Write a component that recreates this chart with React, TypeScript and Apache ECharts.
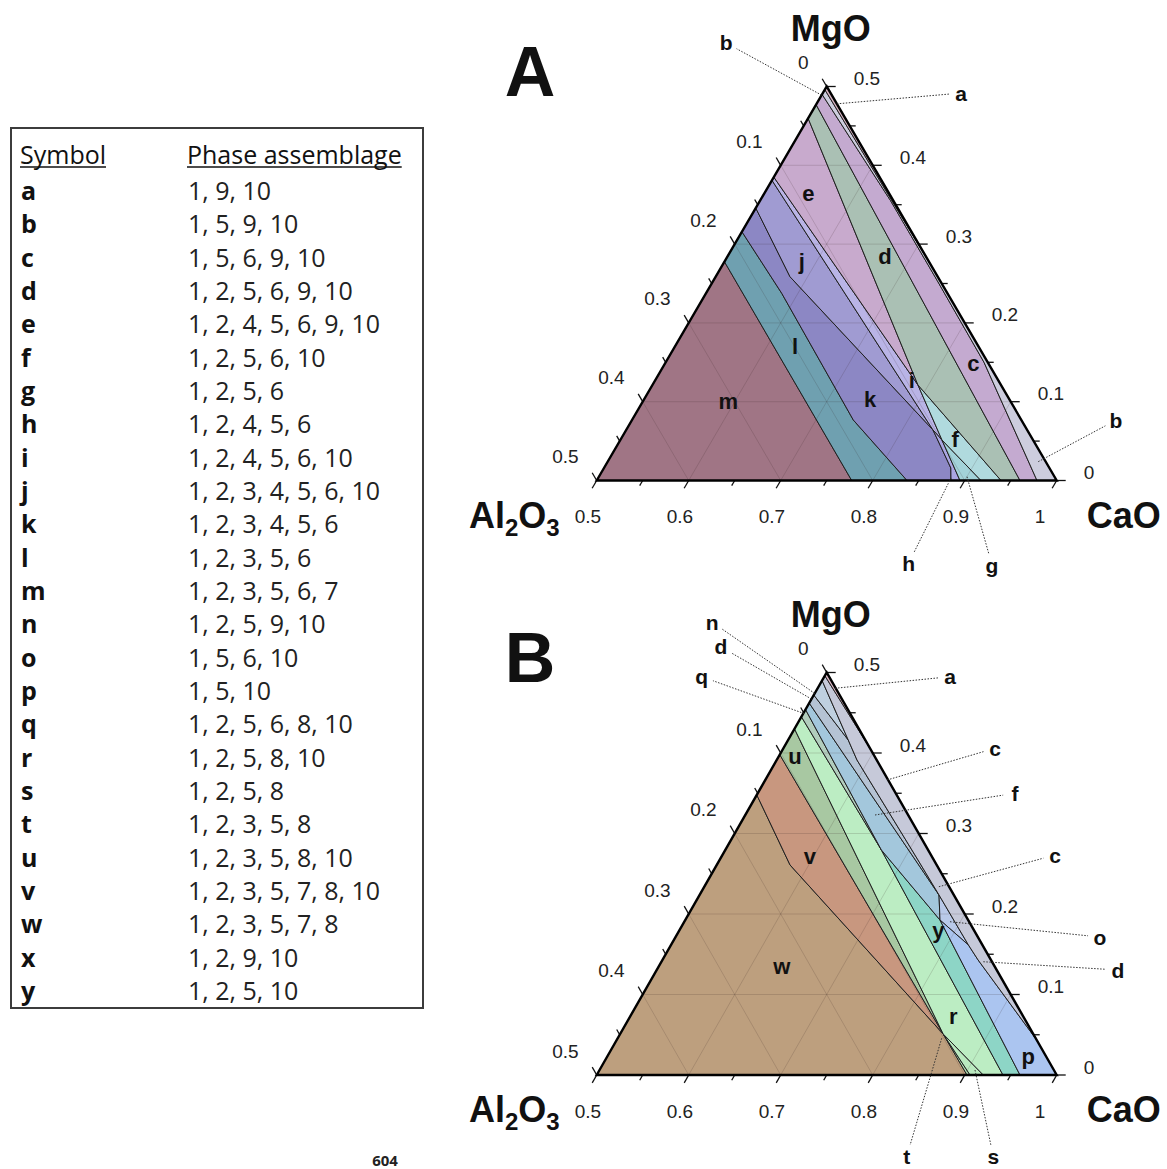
import React, { useEffect, useRef } from "react";
import * as echarts from "echarts";

type P = [number, number]; // [CaO, MgO] mole fractions; Al2O3 = 1 - CaO - MgO

// ---------------- Table data ----------------
const SYMBOLS = ["a","b","c","d","e","f","g","h","i","j","k","l","m","n","o","p","q","r","s","t","u","v","w","x","y"];
const ASSEMBLAGES = [
  "1, 9, 10", "1, 5, 9, 10", "1, 5, 6, 9, 10", "1, 2, 5, 6, 9, 10", "1, 2, 4, 5, 6, 9, 10",
  "1, 2, 5, 6, 10", "1, 2, 5, 6", "1, 2, 4, 5, 6", "1, 2, 4, 5, 6, 10", "1, 2, 3, 4, 5, 6, 10",
  "1, 2, 3, 4, 5, 6", "1, 2, 3, 5, 6", "1, 2, 3, 5, 6, 7", "1, 2, 5, 9, 10", "1, 5, 6, 10",
  "1, 5, 10", "1, 2, 5, 6, 8, 10", "1, 2, 5, 8, 10", "1, 2, 5, 8", "1, 2, 3, 5, 8",
  "1, 2, 3, 5, 8, 10", "1, 2, 3, 5, 7, 8, 10", "1, 2, 3, 5, 7, 8", "1, 2, 9, 10", "1, 2, 5, 10",
];

// ---------------- Axis ticks ----------------
const AL2O3_TICKS = [0, 0.1, 0.2, 0.3, 0.4, 0.5];
const AL2O3_LABELS = ["0", "0.1", "0.2", "0.3", "0.4", "0.5"];
const MGO_TICKS = [0, 0.1, 0.2, 0.3, 0.4, 0.5];
const MGO_LABELS = ["0", "0.1", "0.2", "0.3", "0.4", "0.5"];
const CAO_TICKS = [0.5, 0.6, 0.7, 0.8, 0.9, 1];
const CAO_LABELS = ["0.5", "0.6", "0.7", "0.8", "0.9", "1"];
const MINOR_TICKS = [0, 0.05, 0.1, 0.15, 0.2, 0.25, 0.3, 0.35, 0.4, 0.45, 0.5];
const GRID_MGO = [0.1, 0.2, 0.3, 0.4];
const GRID_CAO = [0.6, 0.7, 0.8, 0.9];
const GRID_AL2O3 = [0.1, 0.2, 0.3, 0.4];

// ---------------- Panel A ----------------
const A_VERTS: Record<string, P> = {
  AL: [0.5, 0], CA: [1, 0], MG: [0.5, 0.5],
  e7: [0.5, 0.2777], e4a: [0.5, 0.3157], e10: [0.5, 0.3458], e3: [0.5, 0.381], e9: [0.5, 0.385],
  e4b: [0.5, 0.4596], e2: [0.5, 0.477], e6: [0.5, 0.49], e5: [0.5, 0.496],
  b7: [0.7772, 0], b4a: [0.8373, 0], b3: [0.8851, 0], b4b: [0.8949, 0], b10: [0.9177, 0],
  b9: [0.9395, 0], b2: [0.9601, 0], b6: [0.9786, 0],
  k4a1: [0.5823, 0.2376], k4a2: [0.7405, 0.0768], k10: [0.5808, 0.2586],
  J1: [0.8335, 0.0641], Q: [0.8496, 0.0514], k3: [0.877, 0.0159], R: [0.7886, 0.1212],
  k6a: [0.642, 0.355], k6b: [0.7435, 0.2535], k6c: [0.846, 0.15], r5: [0.733, 0.267],
};
const A_REGIONS: [string, string[]][] = [
  ["m", ["AL", "b7", "e7"]],
  ["l", ["e7", "b7", "b4a", "k4a2", "k4a1", "e4a"]],
  ["k", ["e4a", "k4a1", "k4a2", "b4a", "b3", "k3", "J1", "k10", "e10"]],
  ["j", ["e10", "k10", "J1", "e3"]],
  ["i", ["e3", "J1", "Q", "R", "e9"]],
  ["h", ["J1", "k3", "b3", "b4b", "Q"]],
  ["g", ["Q", "b4b", "b10"]],
  ["f", ["R", "Q", "b10", "b9"]],
  ["e", ["e9", "R", "e4b"]],
  ["d", ["e4b", "R", "b9", "b2", "e2"]],
  ["c", ["e2", "b2", "b6", "k6c", "k6b", "k6a", "e6"]],
  ["b", ["e6", "k6a", "k6b", "k6c", "b6", "CA", "r5", "e5"]],
  ["a", ["e5", "r5", "MG"]],
];
const A_LABEL_NAMES = ["e", "d", "j", "c", "l", "i", "k", "m", "f"];
const A_LABEL_POS: P[] = [
  [0.5478, 0.3645], [0.6714, 0.284], [0.584, 0.2777], [0.835, 0.1487], [0.6306, 0.1698],
  [0.7787, 0.1275], [0.746, 0.1022], [0.593, 0.1], [0.8638, 0.0514],
];
const A_CALLOUT_LETTERS = ["b", "a", "b", "h", "g"];
const A_CALLOUT_TARGETS: P[] = [[0.5, 0.489], [0.522, 0.478], [0.968, 0.0239], [0.8835, 0.0032], [0.9001, 0.0048]];

// ---------------- Panel B ----------------
const B_VERTS: Record<string, P> = {
  AL: [0.5, 0], CA: [1, 0], MG: [0.5, 0.5],
  e10: [0.5, 0.348], e7: [0.5, 0.398], e3: [0.5, 0.43], e6: [0.5, 0.445], e8: [0.5, 0.454],
  e9: [0.5, 0.462], en: [0.5, 0.472], ec: [0.5, 0.49], ea: [0.5, 0.496],
  b7: [0.9025, 0], b3: [0.9058, 0], b10: [0.9202, 0], b8: [0.9416, 0], b2: [0.9601, 0],
  kv: [0.5797, 0.2609], X1: [0.8512, 0.0509], X2: [0.6697, 0.2795], X4: [0.7769, 0.1925],
  O1: [0.7603, 0.2236], O2: [0.8233, 0.1615],
  lnE: [0.5654, 0.4161], lc1: [0.5873, 0.3913], lc2: [0.7157, 0.2671], lc3: [0.8431, 0.1429],
  Ec: [0.9565, 0.0435], aE: [0.5963, 0.4037],
};
const B_REGIONS: [string, string[]][] = [
  ["w", ["AL", "b7", "X1", "kv", "e10"]],
  ["v", ["e10", "kv", "X1", "e7"]],
  ["u", ["e7", "X1", "e3"]],
  ["t", ["X1", "b7", "b3"]],
  ["s", ["X1", "b3", "b10"]],
  ["r", ["e3", "X1", "b10", "b8", "X2", "e6"]],
  ["q", ["e6", "X2", "e8"]],
  ["y", ["X2", "b8", "b2", "X4"]],
  ["f", ["e8", "X2", "X4", "O1", "e9"]],
  ["o", ["O1", "X4", "O2"]],
  ["p", ["X4", "b2", "CA", "Ec", "lc3", "O2"]],
  ["d", ["e9", "O1", "lc2", "lc1", "lnE", "en"]],
  ["n", ["en", "lnE", "ec"]],
  ["c", ["ec", "lnE", "lc1", "lc2", "O1", "O2", "lc3", "Ec", "aE", "ea"]],
  ["a", ["ea", "aE", "MG"]],
];
const B_LABEL_NAMES = ["u", "v", "w", "y", "r", "p"];
const B_LABEL_POS: P[] = [
  [0.5178, 0.3954], [0.5962, 0.2712], [0.6339, 0.1345], [0.7813, 0.1801], [0.8514, 0.0724], [0.9578, 0.0227],
];
const B_CALLOUT_LETTERS = ["n", "d", "q", "a", "c", "f", "c", "o", "d", "t", "s"];
const B_CALLOUT_TARGETS: P[] = [
  [0.5, 0.474], [0.5, 0.467], [0.501, 0.449], [0.5188, 0.4804], [0.6325, 0.3665], [0.641, 0.323],
  [0.755, 0.2339], [0.7888, 0.1904], [0.8499, 0.1407], [0.8522, 0.0456], [0.9081, 0.0062],
];

// ---------------- Styles / layout ----------------
const A_COLORS: Record<string, string> = {
  m: "#a07585", l: "#6fa0b0", k: "#8c87c4", j: "#a09bd2", i: "#b9b4e6", h: "#aaa6e2", g: "#a3d3d9",
  f: "#b0dade", e: "#c8aacd", d: "#aac0b4", c: "#c4aad0", b: "#cdcdde", a: "#d7b4c3",
};
const B_COLORS: Record<string, string> = {
  w: "#bd9f7e", v: "#c8977f", u: "#a8c8a2", t: "#b3e0b3", s: "#bae9bf", r: "#bcedc3", q: "#b2cdbd",
  y: "#8dd5c6", f: "#a3c7dc", o: "#b9c9e9", p: "#abc5f0", d: "#b5c3d4", n: "#bfd0e0", c: "#c6c9d9", a: "#dbb8c4",
};
const A_CALLOUT_OFFSETS = [[-95.6, -52.2], [124.2, -10.8], [77.7, -41.5], [-42.4, 85.3], [25, 88.3]];
const B_CALLOUT_OFFSETS = [
  [-102.7, -71.4], [-90.5, -52.1], [-102.5, -36.9], [115, -11.6], [107.8, -31.7], [140, -21.7],
  [116.1, -31.7], [150, 15.3], [134.7, 8.3], [-35, 118.2], [18.3, 86.5],
];
const GRID_A = { left: 596.7, top: 86.5, width: 460, height: 394 };
const GRID_B = { left: 596.7, top: 672.5, width: 460, height: 402.5 };

const FC = '"Liberation Sans", Arial, sans-serif';
const FT = '"Open Sans", "Noto Sans", sans-serif';
const F_TICK = `19px ${FC}`;
const F_TITLE = `bold 36px ${FC}`;
const F_SUB = `bold 24px ${FC}`;
const F_PANEL = `bold 70px ${FC}`;
const F_REGION = `bold 22px ${FC}`;
const F_CALLOUT = `bold 21px ${FC}`;

let measureCtx: CanvasRenderingContext2D | null = null;
function measure(text: string, font: string): number {
  if (!measureCtx) measureCtx = document.createElement("canvas").getContext("2d");
  measureCtx!.font = font;
  return measureCtx!.measureText(text).width;
}

function T(text: string, x: number, y: number, font: string, align: string, fill = "#111") {
  return {
    type: "text", x, y,
    style: { text, font, fill, align, textAlign: align, verticalAlign: "middle", textVerticalAlign: "middle" },
  };
}

interface Panel {
  letter: string;
  verts: Record<string, P>;
  regions: [string, string[]][];
  colors: Record<string, string>;
  labelNames: string[];
  labelPos: P[];
  calloutLetters: string[];
  calloutTargets: P[];
  calloutOffsets: number[][];
}

function panelSeries(k: number, pn: Panel): any[] {
  const base: any = {
    type: "custom", coordinateSystem: "cartesian2d", xAxisIndex: k, yAxisIndex: k,
    data: [[0.75, 0.25]], silent: true, clip: false,
  };
  const toPx = (api: any, p: P): number[] => api.coord([p[0] + p[1] / 2, p[1]]);

  const regions = (_: any, api: any) => ({
    type: "group",
    children: pn.regions.map(([nm, keys]) => ({
      type: "polygon",
      shape: { points: keys.map((key) => toPx(api, pn.verts[key])) },
      style: { fill: pn.colors[nm], stroke: "#202020", lineWidth: 1 },
    })),
  });

  const gridLines = (_: any, api: any) => {
    const segs: [P, P][] = [];
    GRID_MGO.forEach((v) => segs.push([[0.5, v], [1 - v, v]]));
    GRID_CAO.forEach((v) => segs.push([[v, 0], [v, 1 - v]]));
    GRID_AL2O3.forEach((v) => segs.push([[1 - v, 0], [0.5, 0.5 - v]]));
    return {
      type: "group",
      children: segs.map(([p1, p2]) => {
        const a = toPx(api, p1), b = toPx(api, p2);
        return { type: "line", shape: { x1: a[0], y1: a[1], x2: b[0], y2: b[1] }, style: { stroke: "rgba(50,30,30,0.16)", lineWidth: 1 } };
      }),
    };
  };

  const frame = (_: any, api: any) => {
    const AL = toPx(api, [0.5, 0]), CA = toPx(api, [1, 0]), MG = toPx(api, [0.5, 0.5]);
    const nrm = (v: number[]) => { const d = Math.hypot(v[0], v[1]); return [v[0] / d, v[1] / d]; };
    const uL = nrm([MG[0] - AL[0], MG[1] - AL[1]]);
    const uR = nrm([MG[0] - CA[0], MG[1] - CA[1]]);
    const ch: any[] = [];
    const tick = (p: number[], dir: number[], len: number) =>
      ch.push({ type: "line", shape: { x1: p[0], y1: p[1], x2: p[0] + dir[0] * len, y2: p[1] + dir[1] * len }, style: { stroke: "#111", lineWidth: 1.3 } });
    MINOR_TICKS.forEach((v) => {
      const major = Math.abs(v * 10 - Math.round(v * 10)) < 1e-6;
      const len = major ? 9 : 6;
      tick(toPx(api, [1 - v, v]), [1, 0], len);
      tick(toPx(api, [0.5, 0.5 - v]), uR, len);
      tick(toPx(api, [0.5 + v, 0]), [-uL[0], -uL[1]], len);
    });
    ch.push({ type: "polygon", shape: { points: [AL, CA, MG] }, style: { fill: "none", stroke: "#000", lineWidth: 2.4, lineJoin: "miter" } });
    return { type: "group", children: ch };
  };

  const texts = (_: any, api: any) => {
    const px = (p: P) => toPx(api, p);
    const AL = px([0.5, 0]), CA = px([1, 0]), MG = px([0.5, 0.5]);
    const ch: any[] = [];
    AL2O3_TICKS.forEach((v, i) => { const q = px([0.5, 0.5 - v]); ch.push(T(AL2O3_LABELS[i], q[0] - 18, q[1] - 24, F_TICK, "right", "#222")); });
    MGO_TICKS.forEach((v, i) => { const q = px([1 - v, v]); ch.push(T(MGO_LABELS[i], q[0] + 27, q[1] - 8, F_TICK, "left", "#222")); });
    CAO_TICKS.forEach((v, i) => { const q = px([v, 0]); ch.push(T(CAO_LABELS[i], q[0] - 22, q[1] + 36, F_TICK, "left", "#222")); });
    ch.push(T("MgO", MG[0] + 4, MG[1] - 58, F_TITLE, "center"));
    ch.push(T("CaO", CA[0] + 30, CA[1] + 34.5, F_TITLE, "left"));
    let x = AL[0] - 127.7;
    const parts: [string, boolean][] = [["Al", false], ["2", true], ["O", false], ["3", true]];
    parts.forEach(([s, sub]) => {
      const f = sub ? F_SUB : F_TITLE;
      ch.push(T(s, x, AL[1] + 34.5 + (sub ? 12 : 0), f, "left"));
      x += measure(s, f);
    });
    ch.push(T(pn.letter, MG[0] - 296.7, MG[1] - 14.5, F_PANEL, "center"));
    pn.labelNames.forEach((nm, i) => { const q = px(pn.labelPos[i]); ch.push(T(nm, q[0], q[1], F_REGION, "center")); });
    pn.calloutLetters.forEach((nm, i) => {
      const t = px(pn.calloutTargets[i]);
      const [dx, dy] = pn.calloutOffsets[i];
      const lx = t[0] + dx, ly = t[1] + dy;
      const d = Math.hypot(dx, dy);
      const ex = lx - (dx / d) * 12, ey = ly - (dy / d) * 12;
      ch.push({ type: "line", shape: { x1: t[0], y1: t[1], x2: ex, y2: ey }, style: { stroke: "#333", lineWidth: 1, lineDash: [1.5, 1.5] } });
      ch.push(T(nm, lx, ly, F_CALLOUT, "center"));
    });
    return { type: "group", children: ch };
  };

  return [
    { ...base, z: 2, renderItem: regions },
    { ...base, z: 3, renderItem: gridLines },
    { ...base, z: 4, renderItem: frame },
    { ...base, z: 5, renderItem: texts },
  ];
}

function tableGraphics(): any[] {
  const els: any[] = [];
  els.push({ type: "rect", shape: { x: 11, y: 128, width: 412, height: 880 }, style: { fill: "#fff", stroke: "#3c3c3c", lineWidth: 2 } });
  const hf = `25px ${FT}`;
  const hy = 154;
  els.push(T("Symbol", 20, hy, hf, "left", "#111"));
  els.push(T("Phase assemblage", 187, hy, hf, "left", "#111"));
  const w1 = measure("Symbol", hf), w2 = measure("Phase assemblage", hf);
  els.push({ type: "line", shape: { x1: 20, y1: 167, x2: 20 + w1, y2: 167 }, style: { stroke: "#111", lineWidth: 1.6 } });
  els.push({ type: "line", shape: { x1: 187, y1: 167, x2: 187 + w2, y2: 167 }, style: { stroke: "#111", lineWidth: 1.6 } });
  SYMBOLS.forEach((s, i) => {
    const y = 190 + i * 33.33;
    els.push(T(s, 21, y, `bold 25px ${FT}`, "left", "#111"));
    els.push(T(ASSEMBLAGES[i], 188, y, `25px ${FT}`, "left", "#222"));
  });
  els.push(T("604", 385, 1160, `bold 15px ${FT}`, "center", "#222"));
  return els;
}

function buildOption(): any {
  const A: Panel = {
    letter: "A", verts: A_VERTS, regions: A_REGIONS, colors: A_COLORS,
    labelNames: A_LABEL_NAMES, labelPos: A_LABEL_POS,
    calloutLetters: A_CALLOUT_LETTERS, calloutTargets: A_CALLOUT_TARGETS, calloutOffsets: A_CALLOUT_OFFSETS,
  };
  const B: Panel = {
    letter: "B", verts: B_VERTS, regions: B_REGIONS, colors: B_COLORS,
    labelNames: B_LABEL_NAMES, labelPos: B_LABEL_POS,
    calloutLetters: B_CALLOUT_LETTERS, calloutTargets: B_CALLOUT_TARGETS, calloutOffsets: B_CALLOUT_OFFSETS,
  };
  return {
    animation: false,
    backgroundColor: "#ffffff",
    grid: [GRID_A, GRID_B],
    xAxis: [0, 1].map((i) => ({ type: "value", gridIndex: i, min: 0.5, max: 1, show: false })),
    yAxis: [0, 1].map((i) => ({ type: "value", gridIndex: i, min: 0, max: 0.5, show: false })),
    series: [...panelSeries(0, A), ...panelSeries(1, B)],
    graphic: { elements: tableGraphics() },
  };
}

export default function App() {
  const ref = useRef<HTMLDivElement>(null);
  useEffect(() => {
    const chart = echarts.init(ref.current!, undefined, { renderer: "svg" });
    chart.setOption(buildOption());
    return () => chart.dispose();
  }, []);
  return (
    <div
      ref={ref}
      style={{ position: "absolute", left: 0, top: 0, width: 1167, height: 1169, background: "#fff" }}
    />
  );
}
